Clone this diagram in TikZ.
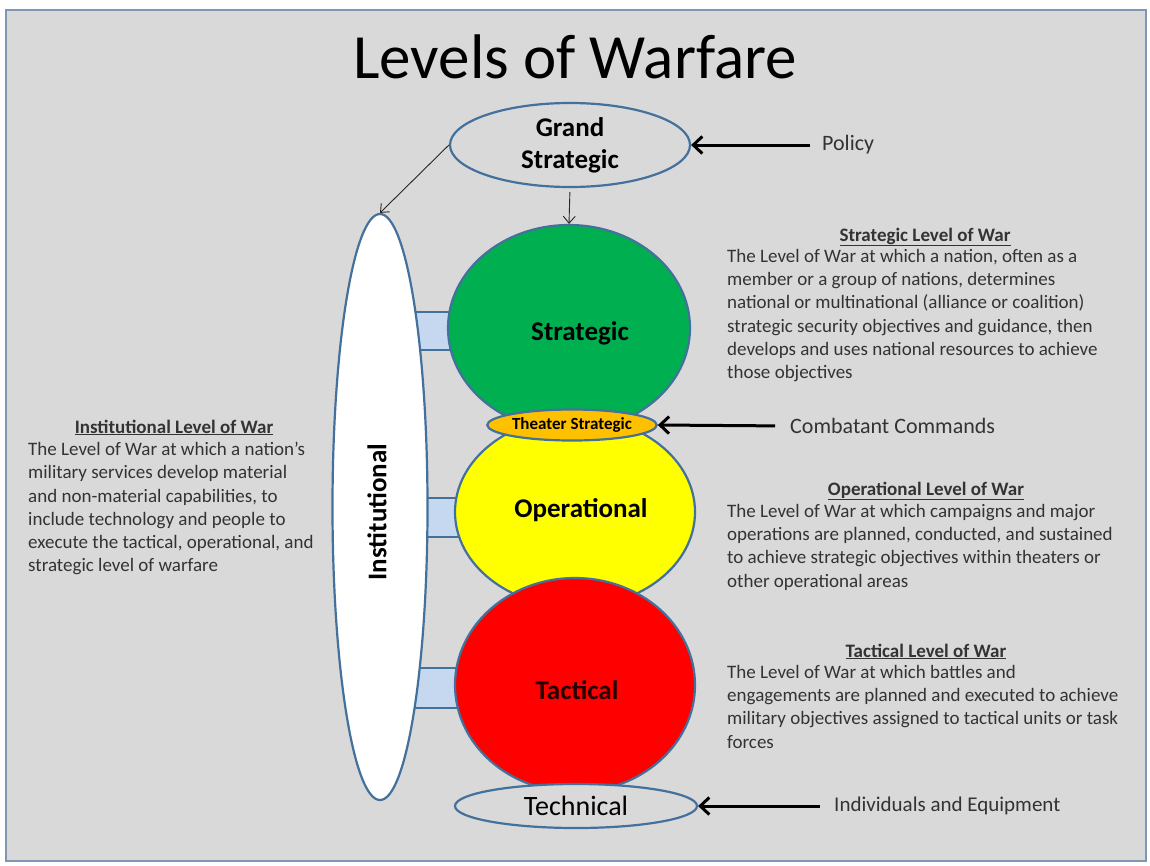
\documentclass[tikz,border=0pt]{standalone}
\usepackage{fontspec}
\setmainfont{Carlito}
\usetikzlibrary{arrows.meta,shapes.geometric}
\definecolor{bg}{HTML}{D9D9D9}
\definecolor{frame}{HTML}{7F97B5}
\definecolor{edge}{HTML}{44709C}
\definecolor{barfill}{HTML}{C5D8F0}
\definecolor{txt}{HTML}{333333}
\definecolor{stratgreen}{HTML}{00B050}
\definecolor{opyellow}{HTML}{FFFF00}
\definecolor{tacred}{HTML}{FF0000}
\definecolor{theater}{HTML}{FFC000}
\begin{document}
\begin{tikzpicture}[x=1pt,y=-1pt,
  level/.style={ellipse, draw=edge, line width=2.2pt, inner sep=0pt},
  bar/.style={fill=barfill},
  barline/.style={draw=edge, line width=2.2pt},
  thinarrow/.style={-{Straight Barb[length=7pt,width=12pt]}, line width=0.9pt, draw=black!85},
  bigarrow/.style={-{Straight Barb[length=9pt,width=17pt]}, line width=3pt},
  sidelabel/.style={anchor=west, font=\fontsize{22}{26}\selectfont, text=txt, inner sep=0pt},
  lvl/.style={font=\bfseries\fontsize{27}{32}\selectfont, inner sep=0pt},
  head/.style={anchor=base, font=\bfseries\fontsize{19}{23.2}\selectfont, text=txt, inner sep=0pt},
  desc/.style={align=left, anchor=north west, font=\fontsize{19}{23.2}\selectfont, text=txt, inner sep=0pt}]

% page and framed panel
\useasboundingbox (0,0) rectangle (1150,865);
\fill[white] (0,0) rectangle (1150,865);
\filldraw[fill=bg, draw=frame, line width=2pt] (6,10) rectangle (1146,861);

% title
\node[anchor=base, font=\fontsize{63}{72}\selectfont, inner sep=0pt] (title) at (575,78) {Levels of Warfare};

% connecting bars between the institutional level and the three main levels
\fill[bar] (410,312) rectangle (480,350);
\draw[barline] (410,312) -- (480,312) (410,350) -- (480,350);
\fill[bar] (410,498) rectangle (480,537);
\draw[barline] (410,498) -- (480,498) (410,537) -- (480,537);
\fill[bar] (410,668) rectangle (480,708);
\draw[barline] (410,668) -- (480,668) (410,708) -- (480,708);

% institutional level
\node[level, fill=white, minimum width=95pt, minimum height=586pt] (inst) at (380,507) {};
\node[lvl, rotate=90] (instlabel) at (377,512) {Institutional};

% main levels
\node[level, fill=stratgreen, minimum width=242pt, minimum height=206pt] (strat) at (569,328) {};
\node[level, fill=opyellow, minimum width=240pt, minimum height=190pt] (oper) at (575,512) {};
\node[level, fill=tacred, minimum width=240pt, minimum height=214pt] (tact) at (575,685) {};
\node[lvl] (stratlabel) at (580,333) {Strategic};
\node[lvl] (operlabel) at (581,510) {Operational};
\node[lvl, text=black!85!red] (tactlabel) at (577,690) {Tactical};

% theater strategic, grand strategic and technical levels
\node[level, fill=theater, minimum width=154pt, minimum height=31pt,
      font=\bfseries\fontsize{17}{20}\selectfont] (theat) at (572,425) {Theater Strategic};
\node[level, fill=bg, minimum width=240pt, minimum height=84pt, align=center,
      font=\bfseries\fontsize{27}{32}\selectfont] (grand) at (570,145) {Grand\\[0pt]Strategic};
\node[level, fill=bg, minimum width=242pt, minimum height=44pt,
      font=\fontsize{28}{32}\selectfont] (tech) at (576,806) {Technical};

% flow from the grand strategic level
\draw[thinarrow] (grand.west) -- (inst.north);
\draw[thinarrow, shorten <=4pt] (grand.south) -- (strat.north);

% side labels with arrows
\node[sidelabel] (policy) at (822,145) {Policy};
\node[sidelabel] (combat) at (790,426) {Combatant Commands};
\node[sidelabel, font=\fontsize{21}{25}\selectfont] (indiv) at (834,806) {Individuals and Equipment};
\draw[bigarrow, shorten <=12pt] (policy.west) -- (grand.east);
\draw[bigarrow, shorten <=15pt] (combat.west) -- (theat.east);
\draw[bigarrow, shorten <=14pt] (indiv.west) -- (tech.east);

% definitions
\node[head] (strathead) at (925,241) {\underline{Strategic Level of War}};
\node[desc] (stratdesc) at (727,249) {The Level of War at which a nation, often as a\\member or a group of nations, determines\\national or multinational (alliance or coalition)\\strategic security objectives and guidance, then\\develops and uses national resources to achieve\\those objectives};

\node[head] (insthead) at (174,433) {\underline{Institutional Level of War}};
\node[desc] (instdesc) at (28,442) {The Level of War at which a nation’s\\military services develop material\\and non-material capabilities, to\\include technology and people to\\execute the tactical, operational, and\\strategic level of warfare};

\node[head] (operhead) at (926,495) {\underline{Operational Level of War}};
\node[desc] (operdesc) at (727,504) {The Level of War at which campaigns and major\\operations are planned, conducted, and sustained\\to achieve strategic objectives within theaters or\\other operational areas};

\node[head] (tacthead) at (926,657) {\underline{Tactical Level of War}};
\node[desc] (tactdesc) at (727,665) {The Level of War at which battles and\\engagements are planned and executed to achieve\\military objectives assigned to tactical units or task\\forces};
\end{tikzpicture}
\end{document}
